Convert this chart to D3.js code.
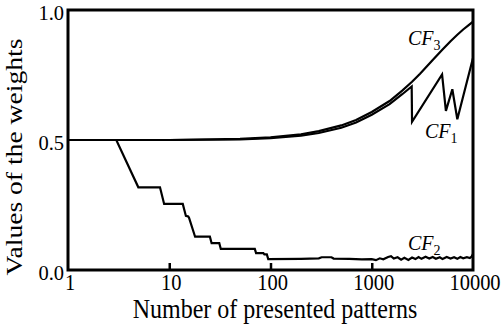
<!DOCTYPE html>
<html>
<head>
<meta charset="utf-8">
<script src="https://cdn.jsdelivr.net/npm/d3@7"></script>
<style>
  body { margin: 0; background: #fff; }
</style>
</head>
<body>
<svg id="chart" width="504" height="328"></svg>
<script>
// Data
const xTicks = [1, 10, 100, 1000, 10000];
const yTicks = [0.0, 0.5, 1.0];

const cf3N = [1, 10, 50, 100, 200, 300, 500, 700, 1000, 1500, 2000, 2500, 3000, 4000, 5000, 6000, 7000, 8000, 9000, 10000];
const cf3W = [0.5, 0.5, 0.504, 0.51, 0.522, 0.534, 0.556, 0.577, 0.608, 0.65, 0.69, 0.724, 0.755, 0.808, 0.848, 0.88, 0.905, 0.925, 0.941, 0.955];

const cf1N = [1, 10, 50, 100, 200, 300, 500, 700, 1000, 1500, 2000, 2480, 2500, 4950, 5400, 6250, 7000, 10000];
const cf1W = [0.5, 0.5, 0.502, 0.507, 0.517, 0.527, 0.547, 0.567, 0.597, 0.638, 0.676, 0.706, 0.57, 0.752, 0.612, 0.695, 0.58, 0.815];

const cf2N = [1, 3, 4.95, 8.1, 8.9, 13.6, 14.6, 15.4, 15.7, 18, 25.2, 26.2, 31.2, 32.3, 70, 72, 85, 87, 92, 95,
  200, 300, 320, 400, 420, 600, 800, 1000, 1100, 1200, 1300, 1450, 1550, 1650, 1800, 1950, 2100, 2300, 2500,
  2700, 2900, 3100, 3400, 3700, 4000, 4300, 4700, 5000, 5500, 6000, 6500, 7000, 7500, 8000, 8700, 9300, 9700, 10000];
const cf2W = [0.5, 0.5, 0.318, 0.318, 0.254, 0.254, 0.208, 0.206, 0.2, 0.128, 0.128, 0.103, 0.103, 0.081, 0.081, 0.065, 0.065, 0.06, 0.06, 0.042,
  0.043, 0.045, 0.049, 0.049, 0.044, 0.043, 0.041, 0.042, 0.038, 0.045, 0.041, 0.05, 0.053, 0.044, 0.049, 0.04, 0.047, 0.039, 0.048,
  0.042, 0.05, 0.043, 0.051, 0.044, 0.05, 0.043, 0.049, 0.042, 0.05, 0.044, 0.049, 0.043, 0.05, 0.045, 0.049, 0.046, 0.052, 0.062];

const serif = "'Liberation Serif', 'Times New Roman', serif";
const svg = d3.select("#chart");
const plotLeft = 68, plotRight = 473, plotTop = 10, plotBottom = 270;

const x = d3.scaleLog().domain([1, 10000]).range([plotLeft, plotRight]);
const y = d3.scaleLinear().domain([0, 1]).range([plotBottom, plotTop]);

const line = d3.line().x(d => x(d[0])).y(d => y(d[1]));

// Curves
[[cf3N, cf3W], [cf1N, cf1W], [cf2N, cf2W]].forEach(([n, w]) => {
  svg.append("path")
    .datum(n.map((v, i) => [v, w[i]]))
    .attr("fill", "none")
    .attr("stroke", "#000")
    .attr("stroke-width", 2.2)
    .attr("d", line);
});

// Frame
svg.append("rect")
  .attr("x", plotLeft)
  .attr("y", plotTop)
  .attr("width", plotRight - plotLeft)
  .attr("height", plotBottom - plotTop)
  .attr("fill", "none")
  .attr("stroke", "#000")
  .attr("stroke-width", 3);

// X axis: inward ticks, labels drawn separately
const xAxis = svg.append("g")
  .attr("transform", `translate(0,${plotBottom})`)
  .call(d3.axisBottom(x).tickValues(xTicks.slice(1, -1)).tickFormat("").tickSizeInner(-7).tickSizeOuter(0));
xAxis.select(".domain").remove();
xAxis.selectAll(".tick line").attr("stroke-width", 2.5);

svg.append("g").selectAll("text")
  .data(xTicks)
  .enter()
  .append("text")
  .attr("transform", d => `translate(${x(d) + 2},290) scale(1,1.1)`)
  .attr("text-anchor", "middle")
  .style("font-family", serif)
  .style("font-size", "20.5px")
  .text(d => d);

svg.append("g").selectAll("text")
  .data(yTicks)
  .enter()
  .append("text")
  .attr("transform", d => `translate(64,${y(d) + 10}) scale(1,1.05)`)
  .attr("text-anchor", "end")
  .style("font-family", serif)
  .style("font-size", "20.5px")
  .text(d => d.toFixed(1));

// Axis titles
svg.append("text")
  .attr("transform", "translate(275,318) scale(1,1.15)")
  .attr("text-anchor", "middle")
  .style("font-family", serif)
  .style("font-size", "24px")
  .text("Number of presented patterns");

svg.append("text")
  .attr("transform", "translate(22,157) rotate(-90) scale(1.15,1)")
  .attr("text-anchor", "middle")
  .style("font-family", serif)
  .style("font-size", "24px")
  .text("Values of the weights");

// Curve labels
const curveLabels = [
  { name: "CF", sub: "3", x: 408, y: 45 },
  { name: "CF", sub: "1", x: 425, y: 138 },
  { name: "CF", sub: "2", x: 408, y: 250 }
];
curveLabels.forEach(l => {
  const t = svg.append("text")
    .attr("x", l.x)
    .attr("y", l.y)
    .style("font-family", serif)
    .style("font-size", "20px")
    .style("font-style", "italic");
  t.append("tspan").text(l.name);
  t.append("tspan")
    .style("font-style", "normal")
    .style("font-size", "14px")
    .attr("dy", 5)
    .text(l.sub);
});
</script>
</body>
</html>
